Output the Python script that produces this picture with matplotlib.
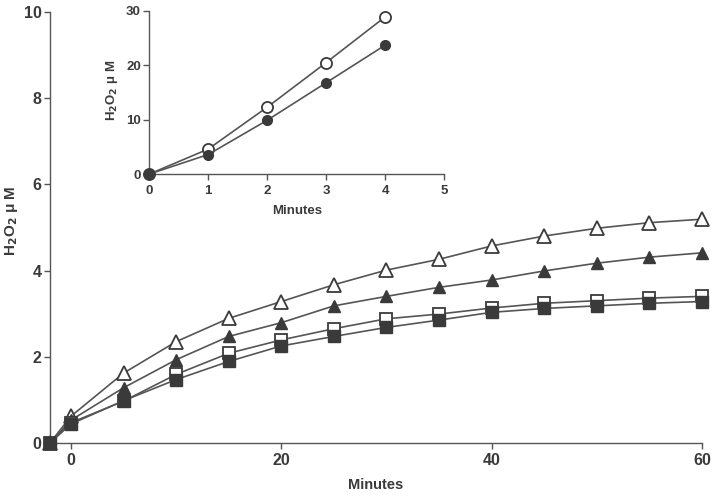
import matplotlib.pyplot as plt

plt.rcParams['font.family'] = ['Liberation Sans', 'DejaVu Sans']
plt.rcParams['font.weight'] = 'bold'

# main panel: H2O2 (uM) versus time (minutes)
minutes = [-2, 0, 5, 10, 15, 20, 25, 30, 35, 40, 45, 50, 55, 60]
open_tri = [0, 0.62, 1.62, 2.35, 2.89, 3.28, 3.67, 4.01, 4.26, 4.57, 4.80, 4.98, 5.11, 5.19]
filled_tri = [0, 0.53, 1.28, 1.93, 2.47, 2.79, 3.18, 3.40, 3.61, 3.78, 3.99, 4.17, 4.31, 4.41]
open_sq = [0, 0.47, 0.97, 1.59, 2.08, 2.39, 2.65, 2.88, 2.99, 3.13, 3.24, 3.30, 3.36, 3.40]
filled_sq = [0, 0.44, 0.98, 1.47, 1.89, 2.25, 2.47, 2.68, 2.85, 3.03, 3.12, 3.18, 3.24, 3.28]

# inset: first five minutes
inset_min = [0, 1, 2, 3, 4]
open_circ = [0, 4.6, 12.3, 20.5, 28.9]
filled_circ = [0, 3.6, 9.9, 16.8, 23.7]

ink = '#3a3a3a'
line_c = '#555555'
ylab = 'H$_\\mathbf{2}$O$_\\mathbf{2}$ \u03bc M'

fig = plt.figure(figsize=(7.14, 4.96), dpi=100)
ax = fig.add_axes([0.070, 0.107, 0.913, 0.869])

ax.plot(minutes, open_tri, color=line_c, lw=1.2, marker='^', ms=9.5,
        mfc='white', mec=ink, mew=1.3, clip_on=False, zorder=3)
ax.plot(minutes, filled_tri, color=line_c, lw=1.2, marker='^', ms=8,
        mfc=ink, mec=ink, clip_on=False, zorder=3)
ax.plot(minutes, open_sq, color=line_c, lw=1.2, marker='s', ms=8,
        mfc='white', mec=ink, mew=1.3, clip_on=False, zorder=3)
ax.plot(minutes, filled_sq, color=line_c, lw=1.2, marker='s', ms=8,
        mfc=ink, mec=ink, clip_on=False, zorder=4)

ax.set_xlim(-2, 60)
ax.set_ylim(0, 10)
ax.set_xticks([0, 20, 40, 60])
ax.set_yticks([0, 2, 4, 6, 8, 10])
ax.spines['top'].set_visible(False)
ax.spines['right'].set_visible(False)
for s in ['left', 'bottom']:
    ax.spines[s].set_color(line_c)
    ax.spines[s].set_linewidth(1.0)
ax.tick_params(colors=line_c, labelcolor=ink, labelsize=11.5, length=4, width=1.0)
ax.tick_params(axis='y', pad=2)
ax.set_xlabel('Minutes', fontsize=10.5, color=ink, fontweight='bold')
ax.xaxis.set_label_coords(0.50, -0.081)
ax.set_ylabel(ylab, fontsize=11, color=ink, fontweight='bold')
ax.yaxis.set_label_coords(-0.046, 0.515)

# inset
ins = fig.add_axes([0.209, 0.649, 0.413, 0.329])
ins.plot(inset_min, open_circ, color=line_c, lw=1.2, marker='o', ms=8,
         mfc='white', mec=ink, mew=1.3, clip_on=False, zorder=3)
ins.plot(inset_min, filled_circ, color=line_c, lw=1.2, marker='o', ms=7,
         mfc=ink, mec=ink, clip_on=False, zorder=4)
ins.set_xlim(0, 5)
ins.set_ylim(0, 30)
ins.set_xticks([0, 1, 2, 3, 4, 5])
ins.set_yticks([0, 10, 20, 30])
ins.patch.set_alpha(0)
ins.spines['top'].set_visible(False)
ins.spines['right'].set_visible(False)
for s in ['left', 'bottom']:
    ins.spines[s].set_color(line_c)
    ins.spines[s].set_linewidth(1.0)
ins.tick_params(colors=line_c, labelcolor=ink, labelsize=9.5, length=4, width=1.0)
ins.tick_params(axis='y', pad=2)
ins.set_xlabel('Minutes', fontsize=9.5, color=ink, fontweight='bold')
ins.xaxis.set_label_coords(0.5, -0.19)
ins.set_ylabel(ylab, fontsize=9.5, color=ink, fontweight='bold')
ins.yaxis.set_label_coords(-0.10, 0.515)

fig.savefig('out.png', dpi=100)
